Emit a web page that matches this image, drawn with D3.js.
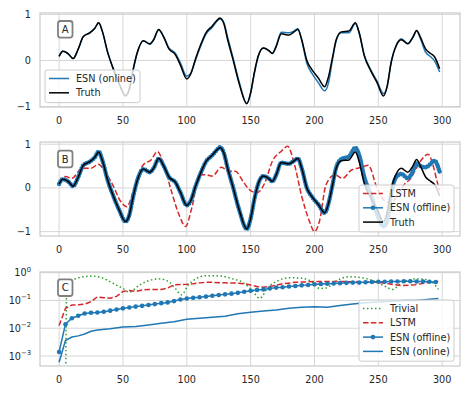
<!DOCTYPE html>
<html>
<head>
<meta charset="utf-8">
<script src="https://cdn.jsdelivr.net/npm/d3@7"></script>
<style>
  body { margin: 0; background: #fff; }
  svg { font-family: "DejaVu Sans", sans-serif; }
</style>
</head>
<body>
<svg id="chart" width="473" height="393"></svg>
<script>
// time knots for truth / ESN predictions (panels A and B)
const t = [0,3,7,11,15,19,24,28,31,34,38,42,47,52,55,58,61,66,71,74,78,82,86,91,95,100,103,107,111,115,
  120,123,126,129,132,136,141,147,150,153,156,160,164,167,170,174,180,184,187,190,194,198,203,208,211,214,217,221,227,232,
  235,239,244,249,254,257,260,264,268,273,277,280,283,287,291,294,298];
const truth = [0.09,0.20,0.15,0.04,0.25,0.52,0.60,0.70,0.82,0.62,
  0.18,-0.15,-0.50,-0.77,-0.62,-0.20,0.15,0.43,0.36,0.45,
  0.67,0.50,0.25,0.13,-0.10,-0.40,-0.30,0.05,0.35,0.60,
  0.75,0.85,0.92,0.80,0.45,0.04,-0.50,-0.94,-0.70,-0.25,
  0.10,0.27,0.22,0.15,0.30,0.58,0.55,0.62,0.67,0.45,
  0.00,-0.20,-0.38,-0.57,-0.35,0.05,0.45,0.62,0.64,0.82,
  0.60,0.10,-0.22,-0.48,-0.77,-0.55,-0.05,0.32,0.45,0.36,
  0.50,0.65,0.50,0.25,0.15,0.08,-0.18];
const esnOnline = [0.09,0.20,0.15,0.04,0.25,0.52,0.60,0.70,0.82,0.62,
  0.18,-0.15,-0.50,-0.76,-0.62,-0.20,0.15,0.43,0.35,0.44,
  0.66,0.51,0.27,0.16,-0.05,-0.34,-0.28,0.02,0.32,0.57,
  0.72,0.83,0.90,0.82,0.50,0.08,-0.46,-0.93,-0.71,-0.27,
  0.09,0.27,0.22,0.16,0.32,0.61,0.60,0.64,0.69,0.44,
  -0.06,-0.28,-0.48,-0.66,-0.48,0.00,0.43,0.60,0.60,0.80,
  0.60,0.12,-0.20,-0.45,-0.72,-0.55,-0.04,0.33,0.47,0.37,
  0.50,0.64,0.47,0.18,0.08,-0.01,-0.25];
const esnOffline = [0.09,0.20,0.15,0.04,0.25,0.52,0.60,0.70,0.83,0.62,
  0.18,-0.15,-0.50,-0.77,-0.62,-0.20,0.15,0.43,0.36,0.45,
  0.67,0.50,0.25,0.13,-0.10,-0.40,-0.30,0.05,0.35,0.60,
  0.75,0.85,0.93,0.80,0.45,0.04,-0.50,-0.94,-0.70,-0.25,
  0.10,0.27,0.22,0.15,0.30,0.58,0.55,0.62,0.67,0.45,
  0.00,-0.20,-0.38,-0.57,-0.35,0.05,0.47,0.66,0.72,0.92,
  0.75,0.25,-0.15,-0.60,-0.88,-0.75,-0.15,0.25,0.32,0.22,
  0.38,0.56,0.50,0.47,0.55,0.62,0.37];

const lstmT = [0,5,10,18,25,31,35,42,48,53,58,62,66,72,77,82,88,94,99,104,
  110,115,120,127,133,138,144,149,155,161,167,174,179,184,190,196,200,204,209,216,
  222,229,237,242,249,255,260,266,271,275,279,284,289,293,296,298];
const lstm = [0.12,0.26,0.22,0.45,0.45,0.54,0.41,0.07,-0.30,-0.43,
  -0.08,0.30,0.53,0.64,0.83,0.53,-0.08,-0.62,-0.88,-0.45,
  0.30,0.30,0.27,0.47,0.38,0.38,0.15,-0.04,-0.11,0.11,
  0.61,0.84,0.95,0.57,-0.19,-0.76,-1.00,-0.75,0.07,0.30,
  0.22,0.41,0.47,0.52,0.00,-0.30,-0.35,-0.10,0.10,0.20,
  0.41,0.65,0.77,0.50,0.15,-0.05];

// panel C: error vs horizon
const errOfflineT = d3.range(0, 300, 5);
const errOffline = [0.0014,0.014,0.023,0.028,0.034,0.036,0.037,0.039,0.043,0.047,
  0.052,0.056,0.060,0.064,0.069,0.074,0.080,0.085,0.095,0.108,
  0.118,0.124,0.130,0.138,0.148,0.157,0.166,0.176,0.188,0.205,
  0.225,0.24,0.25,0.27,0.29,0.30,0.32,0.33,0.35,0.36,
  0.38,0.39,0.40,0.41,0.42,0.43,0.44,0.44,0.45,0.46,
  0.47,0.47,0.48,0.48,0.49,0.49,0.48,0.48,0.47,0.46];
const errOnlineT = [0,5,10,15,20,25,30,40,50,60,70,80,90,100,110,120,130,140,150,160,
  170,180,190,200,210,220,230,240,250,260,270,280,290,297];
const errOnline = [0.0006,0.0036,0.0048,0.0053,0.0062,0.0078,0.0086,0.0095,0.011,0.0115,
  0.013,0.015,0.017,0.021,0.023,0.025,0.027,0.033,0.038,0.042,
  0.045,0.052,0.057,0.059,0.057,0.066,0.075,0.082,0.088,0.094,
  0.10,0.10,0.11,0.117];
const errLstmT = [0,5,10,15,20,25,30,35,40,45,50,55,60,65,70,75,80,85,90,100,
  105,110,115,120,130,140,145,150,155,160,167,175,185,200,220,238,250,258,268,279,290,297];
const errLstm = [0.0125,0.052,0.068,0.070,0.073,0.09,0.135,0.125,0.12,0.14,
  0.21,0.23,0.21,0.24,0.25,0.25,0.25,0.28,0.37,0.38,
  0.40,0.43,0.45,0.45,0.43,0.42,0.40,0.36,0.32,0.30,
  0.33,0.40,0.45,0.48,0.48,0.47,0.45,0.40,0.34,0.37,0.45,0.48];
const errTrivialT = [5,6,9,14,20,24,32,42,50,55,63,71,78,86,91,96,101,107,115,126,
  136,143,151,157,164,172,180,190,198,204,209,216,227,237,248,256,261,268,279,287,293,297];
const errTrivial = [1e-5,0.30,0.50,0.63,0.72,0.76,0.69,0.42,0.27,0.20,
  0.36,0.53,0.60,0.47,0.27,0.16,0.35,0.60,0.78,0.76,
  0.60,0.47,0.24,0.12,0.31,0.53,0.66,0.63,0.47,0.27,
  0.28,0.47,0.72,0.66,0.47,0.31,0.25,0.42,0.60,0.57,0.42,0.25];

const xTicks = [0, 50, 100, 150, 200, 250, 300];
const blue = "#1f77b4", red = "#d62728", green = "#2ca02c", textCol = "#262626", gridCol = "#d6d6d6";

const svg = d3.select("#chart");
const x = d3.scaleLinear().domain([-14.95, 313.95]).range([40, 460]);
const zip = (a, b) => a.map((v, i) => [v, b[i]]);

function frame(id, y, top, bottom, yTicks, yLabel) {
  const g = svg.append("g");
  g.append("rect").attr("x", 40).attr("y", top).attr("width", 420).attr("height", bottom - top).attr("fill", "#fff");
  g.selectAll(".gx").data(xTicks).enter().append("line")
    .attr("x1", d => x(d)).attr("x2", d => x(d)).attr("y1", top).attr("y2", bottom)
    .attr("stroke", gridCol).attr("stroke-width", 1);
  g.selectAll(".gy").data(yTicks).enter().append("line")
    .attr("x1", 40).attr("x2", 460).attr("y1", d => y(d)).attr("y2", d => y(d))
    .attr("stroke", gridCol).attr("stroke-width", 1);
  g.selectAll(".tx").data(xTicks).enter().append("text")
    .attr("x", d => x(d)).attr("y", bottom + 16.5)
    .attr("text-anchor", "middle").attr("font-size", 9.7).attr("fill", textCol)
    .text(d => d);
  yTicks.forEach(v => yLabel(g, v, y(v)));
  svg.append("clipPath").attr("id", id).append("rect")
    .attr("x", 40).attr("y", top).attr("width", 420).attr("height", bottom - top);
  return svg.append("g").attr("clip-path", `url(#${id})`);
}

function spines(top, bottom) {
  svg.append("rect").attr("x", 40).attr("y", top).attr("width", 420).attr("height", bottom - top)
    .attr("fill", "none").attr("stroke", "#cccccc").attr("stroke-width", 1.25);
}

function letter(ch, cy) {
  svg.append("rect").attr("x", 58).attr("y", cy - 8.3).attr("width", 14.5).attr("height", 16.6).attr("rx", 2.5)
    .attr("fill", "#fff").attr("stroke", "#808080").attr("stroke-width", 1.8);
  svg.append("text").attr("x", 65.2).attr("y", cy + 3.6).attr("text-anchor", "middle")
    .attr("font-size", 10).attr("fill", textCol).text(ch);
}

function legend(x0, y0, w, entries) {
  const g = svg.append("g");
  g.append("rect").attr("x", x0).attr("y", y0).attr("width", w).attr("height", entries.length * 14.3 + 4)
    .attr("rx", 2.5).attr("fill", "rgba(255,255,255,0.8)").attr("stroke", "#cccccc").attr("stroke-width", 1);
  entries.forEach((e, i) => {
    const cy = y0 + 8.5 + i * 14.3;
    g.append("line").attr("x1", x0 + 4).attr("x2", x0 + 24).attr("y1", cy).attr("y2", cy)
      .attr("stroke", e.color).attr("stroke-width", 1.5).attr("stroke-dasharray", e.dash || null);
    if (e.marker) g.append("circle").attr("cx", x0 + 14).attr("cy", cy).attr("r", 2.3).attr("fill", e.color);
    g.append("text").attr("x", x0 + 31).attr("y", cy + 3.5).attr("font-size", 9.7).attr("fill", textCol).text(e.label);
  });
}

const plainLabel = (g, v, py) => g.append("text").attr("x", 31).attr("y", py + 3.5)
  .attr("text-anchor", "end").attr("font-size", 9.7).attr("fill", textCol)
  .text(v < 0 ? "\u2212" + Math.abs(v) : v);

const curve = (y) => d3.line().x(d => x(d[0])).y(d => y(d[1])).curve(d3.curveMonotoneX);

// ---- panel A
const yA = d3.scaleLinear().domain([-1.01, 1.03]).range([107, 13]);
const gA = frame("clipA", yA, 13, 107, [-1, 0, 1], plainLabel);
gA.append("path").attr("d", curve(yA)(zip(t, esnOnline)))
  .attr("fill", "none").attr("stroke", blue).attr("stroke-width", 1.5);
gA.append("path").attr("d", curve(yA)(zip(t, truth)))
  .attr("fill", "none").attr("stroke", "#000").attr("stroke-width", 1.5);
spines(13, 107);
letter("A", 29.3);
legend(45, 70, 95, [
  { label: "ESN (online)", color: blue },
  { label: "Truth", color: "#000" }
]);

// ---- panel B
const yB = d3.scaleLinear().domain([-1.1, 1.05]).range([236, 142]);
const gB = frame("clipB", yB, 142, 236, [-1, 0, 1], plainLabel);
gB.append("path").attr("d", curve(yB)(zip(lstmT, lstm)))
  .attr("fill", "none").attr("stroke", red).attr("stroke-width", 1.5).attr("stroke-dasharray", "5.5,2.4");
gB.append("path").attr("d", curve(yB)(zip(t, esnOffline)))
  .attr("fill", "none").attr("stroke", blue).attr("stroke-width", 1.5);
gB.append("path").attr("d", curve(yB)(zip(t, esnOffline)))
  .attr("fill", "none").attr("stroke", blue).attr("stroke-width", 4.5)
  .attr("stroke-linecap", "round").attr("stroke-dasharray", "0,2.6");
gB.append("path").attr("d", curve(yB)(zip(t, truth)))
  .attr("fill", "none").attr("stroke", "#000").attr("stroke-width", 1.5);
spines(142, 236);
letter("B", 159);
legend(359, 185, 95, [
  { label: "LSTM", color: red, dash: "5.5,2.4" },
  { label: "ESN (offline)", color: blue, marker: true },
  { label: "Truth", color: "#000" }
]);

// ---- panel C
const yC = d3.scaleLog().domain([Math.pow(10, -3.36), Math.pow(10, 0.025)]).range([366, 272]);
const supers = { "0": "0", "-1": "\u22121", "-2": "\u22122", "-3": "\u22123" };
const logLabel = (g, v, py) => {
  const e = Math.round(Math.log10(v));
  const tx = g.append("text").attr("x", 31).attr("y", py + 3.5)
    .attr("text-anchor", "end").attr("font-size", 9.7).attr("fill", textCol);
  tx.append("tspan").text("10");
  tx.append("tspan").attr("font-size", 6.8).attr("dy", -4.5).text(supers[String(e)]);
};
const gC = frame("clipC", yC, 272, 366, [1e-3, 1e-2, 1e-1, 1], logLabel);
const lin = d3.line().x(d => x(d[0])).y(d => yC(d[1]));
gC.append("path").attr("d", curve(yC)(zip(errTrivialT, errTrivial)))
  .attr("fill", "none").attr("stroke", green).attr("stroke-width", 1.5).attr("stroke-dasharray", "1.5,2.5");
gC.append("path").attr("d", lin(zip(errLstmT, errLstm)))
  .attr("fill", "none").attr("stroke", red).attr("stroke-width", 1.5).attr("stroke-dasharray", "5.5,2.4");
gC.append("path").attr("d", lin(zip(errOfflineT, errOffline)))
  .attr("fill", "none").attr("stroke", blue).attr("stroke-width", 1.5);
gC.selectAll(".mk").data(zip(errOfflineT, errOffline)).enter().append("circle")
  .attr("cx", d => x(d[0])).attr("cy", d => yC(d[1])).attr("r", 2.3).attr("fill", blue);
gC.append("path").attr("d", lin(zip(errOnlineT, errOnline)))
  .attr("fill", "none").attr("stroke", blue).attr("stroke-width", 1.5);
spines(272, 366);
letter("C", 287.7);
legend(359, 300, 95, [
  { label: "Trivial", color: green, dash: "1.5,2.5" },
  { label: "LSTM", color: red, dash: "5.5,2.4" },
  { label: "ESN (offline)", color: blue, marker: true },
  { label: "ESN (online)", color: blue }
]);
</script>
</body>
</html>
